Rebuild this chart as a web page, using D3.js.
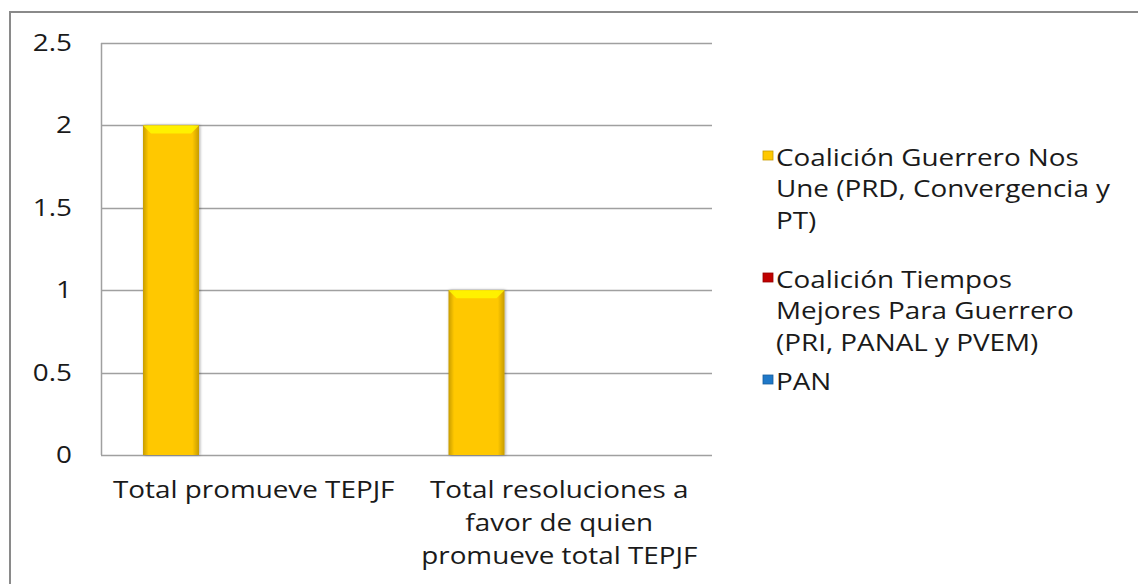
<!DOCTYPE html>
<html>
<head>
<meta charset="utf-8">
<script src="https://cdn.jsdelivr.net/npm/d3@7"></script>
<style>
  body { margin: 0; background: #fff; }
  svg { display: block; }
  text { font-family: "Open Sans", "Noto Sans", sans-serif; fill: #1a1a1a; }
</style>
</head>
<body>
<svg id="chart" width="1138" height="584"></svg>
<script>
// chart data
const categories = [
    ['Total promueve TEPJF'],
    ['Total resoluciones a', 'favor de quien', 'promueve total TEPJF']
];
const seriesNames = [
    ['Coalición Guerrero Nos', 'Une (PRD, Convergencia y', 'PT)'],
    ['Coalición Tiempos', 'Mejores Para Guerrero', '(PRI, PANAL y PVEM)'],
    ['PAN']
];
const seriesColors = ['#ffc800', '#c00000', '#1f78c8'];
// values[series][category]
const values = [
    [2, 1],
    [0, 0],
    [0, 0]
];
const yTicks = [0, 0.5, 1, 1.5, 2, 2.5];

const svg = d3.select('#chart');
const width = 1138;
const height = 584;
const margin = { top: 43, right: 426, bottom: 129, left: 101 };
const fontSize = '24px';
const stretch = 1.16; // the source text looks horizontally wide

// outer chart frame (runs off the right and bottom edges)
svg.append('rect')
    .attr('x', 10)
    .attr('y', 12)
    .attr('width', 1200)
    .attr('height', 700)
    .attr('fill', 'none')
    .attr('stroke', '#8a8a8a')
    .attr('stroke-width', 2);

const x0 = d3.scaleBand()
    .domain(d3.range(categories.length))
    .range([margin.left, width - margin.right]);

const x1 = d3.scaleBand()
    .domain(d3.range(seriesNames.length))
    .range([42, x0.bandwidth() - 42])
    .paddingInner(0.323);

const y = d3.scaleLinear()
    .domain([0, 2.5])
    .range([height - margin.bottom, margin.top]);

// gridlines
svg.append('g')
    .selectAll('line')
    .data(yTicks)
    .join('line')
    .attr('x1', margin.left)
    .attr('x2', width - margin.right)
    .attr('y1', d => Math.round(y(d)) + 0.5)
    .attr('y2', d => Math.round(y(d)) + 0.5)
    .attr('stroke', '#a0a0a0')
    .attr('stroke-width', 1.5);

// left axis line
svg.append('line')
    .attr('x1', margin.left + 0.5)
    .attr('x2', margin.left + 0.5)
    .attr('y1', y(2.5))
    .attr('y2', y(0))
    .attr('stroke', '#a0a0a0')
    .attr('stroke-width', 1.5);

// y labels
svg.append('g')
    .selectAll('text')
    .data(yTicks)
    .join('text')
    .attr('transform', d => `translate(72, ${y(d) + 8}) scale(${stretch},1)`)
    .attr('text-anchor', 'end')
    .attr('font-size', fontSize)
    .text(d => d);

// bar shading
const defs = svg.append('defs');
seriesColors.forEach((c, i) => {
    const dark = d3.color(c).darker(0.7);
    const g = defs.append('linearGradient')
        .attr('id', 'side' + i)
        .attr('x1', '0%').attr('x2', '100%');
    g.append('stop').attr('offset', '0%').attr('stop-color', dark);
    g.append('stop').attr('offset', '10%').attr('stop-color', c);
    g.append('stop').attr('offset', '88%').attr('stop-color', c);
    g.append('stop').attr('offset', '100%').attr('stop-color', dark);
});
const shadow = defs.append('filter').attr('id', 'shadow')
    .attr('x', '-20%').attr('y', '-5%').attr('width', '140%').attr('height', '110%');
shadow.append('feDropShadow')
    .attr('dx', 1).attr('dy', 0).attr('stdDeviation', 1.5)
    .attr('flood-color', '#000').attr('flood-opacity', 0.35);

const bars = [];
values.forEach((row, s) => {
    row.forEach((v, c) => {
        if (v > 0) bars.push({ s, c, v });
    });
});

const barG = svg.append('g')
    .selectAll('g')
    .data(bars)
    .join('g')
    .attr('filter', 'url(#shadow)');

barG.append('rect')
    .attr('x', d => x0(d.c) + x1(d.s))
    .attr('y', d => y(d.v))
    .attr('width', x1.bandwidth())
    .attr('height', d => y(0) - y(d.v))
    .attr('fill', d => `url(#side${d.s})`);

// top bevel highlight
barG.append('path')
    .attr('d', d => {
        const bx = x0(d.c) + x1(d.s);
        const bw = x1.bandwidth();
        const by = y(d.v);
        return `M${bx},${by}L${bx + bw},${by}L${bx + bw - 8},${by + 8}L${bx + 8},${by + 8}Z`;
    })
    .attr('fill', d => d3.color(seriesColors[d.s]).brighter(0.6))
    .attr('opacity', 0.85);

// category labels
const catG = svg.append('g')
    .selectAll('text')
    .data(categories)
    .join('text')
    .attr('text-anchor', 'middle')
    .attr('font-size', fontSize)
    .attr('transform', (d, i) => `translate(${x0(i) + x0.bandwidth() / 2}, 498) scale(${stretch},1)`);

catG.selectAll('tspan')
    .data(d => d)
    .join('tspan')
    .attr('x', 0)
    .attr('dy', (d, i) => i === 0 ? 0 : 33)
    .text(d => d);

// legend
const legendTop = [166, 288, 390];
const legend = svg.append('g')
    .selectAll('g')
    .data(seriesNames)
    .join('g')
    .attr('transform', (d, i) => `translate(763, ${legendTop[i]})`);

legend.append('rect')
    .attr('x', 0)
    .attr('y', -15)
    .attr('width', 10)
    .attr('height', 9)
    .attr('fill', (d, i) => seriesColors[i])
    .attr('stroke', (d, i) => d3.color(seriesColors[i]).darker(0.7))
    .attr('stroke-width', 0.8);

legend.append('text')
    .attr('font-size', fontSize)
    .attr('transform', `translate(13, 0) scale(${stretch},1)`)
    .selectAll('tspan')
    .data(d => d)
    .join('tspan')
    .attr('x', 0)
    .attr('dy', (d, i) => i === 0 ? 0 : 31.5)
    .text(d => d);
</script>
</body>
</html>
